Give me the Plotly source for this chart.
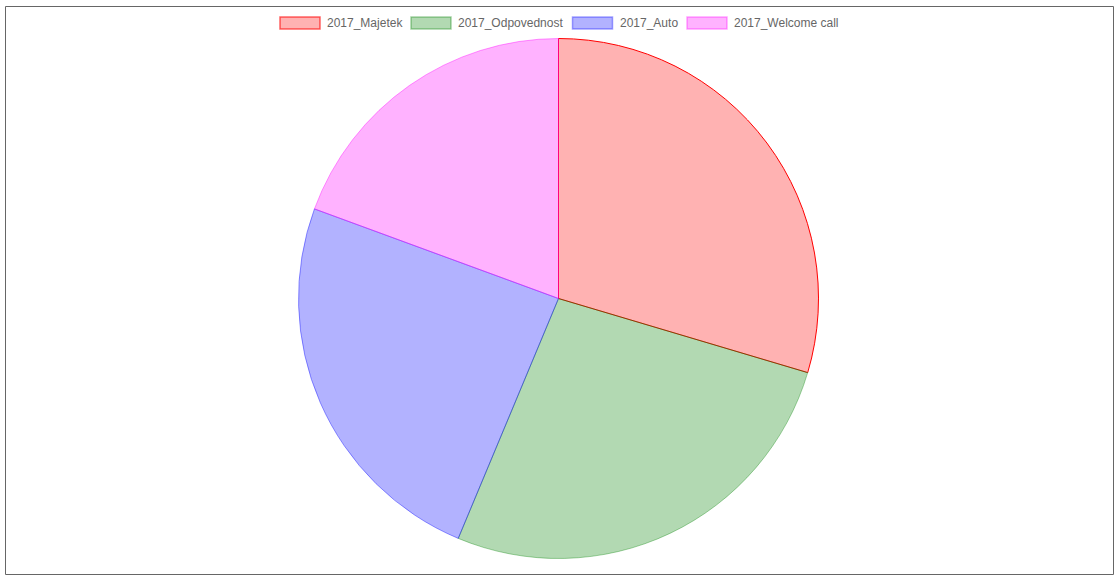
import plotly.graph_objects as go

W, H = 1119, 581

# data (slice shares in %)
labels = ['2017_Majetek', '2017_Odpovednost', '2017_Auto', '2017_Welcome call']
values = [29.6, 26.7, 24.3, 19.4]
fill_colors = ['rgba(255,0,0,0.3)', 'rgba(0,128,0,0.3)', 'rgba(0,0,255,0.3)', 'rgba(255,0,255,0.3)']
line_colors = ['rgba(255,0,0,1)', 'rgba(0,128,0,0.35)', 'rgba(0,0,255,0.4)', 'rgba(255,0,255,0.4)']

def px_x(x):
    return x / W

def px_y(y):
    return 1 - y / H

# pie centred at (558.5, 298.5), radius 260
cx, cy, r = 558.5, 298.5, 260

fig = go.Figure(go.Pie(
    labels=labels,
    values=values,
    sort=False,
    direction='clockwise',
    rotation=0,
    textinfo='none',
    showlegend=False,
    marker=dict(colors=fill_colors, line=dict(color=line_colors, width=1)),
    domain=dict(x=[px_x(cx - r), px_x(cx + r)], y=[px_y(cy + r), px_y(cy - r)]),
))

shapes = []
annotations = []

# outer frame
shapes.append(dict(type='rect', xref='paper', yref='paper',
                   x0=px_x(5.5), x1=px_x(1113.5), y0=px_y(574.5), y1=px_y(6.5),
                   line=dict(color='#666666', width=1), fillcolor='rgba(0,0,0,0)'))

# chart.js style legend across the top
box_x = [280, 411, 572.5, 687]
legend_borders = ['rgba(255,0,0,0.6)', 'rgba(0,128,0,0.35)', 'rgba(0,0,255,0.35)', 'rgba(255,0,255,0.35)']
for i, lab in enumerate(labels):
    x0 = box_x[i]
    shapes.append(dict(type='rect', xref='paper', yref='paper',
                       x0=px_x(x0), x1=px_x(x0 + 40), y0=px_y(29), y1=px_y(17),
                       line=dict(color=legend_borders[i], width=1.5), fillcolor=fill_colors[i]))
    annotations.append(dict(text=lab, xref='paper', yref='paper',
                            x=px_x(x0 + 45), y=px_y(23), xanchor='left', yanchor='middle',
                            showarrow=False,
                            font=dict(family='Liberation Sans, Arial', size=12, color='#666666')))

fig.update_layout(
    width=W, height=H,
    margin=dict(l=0, r=0, t=0, b=0),
    paper_bgcolor='white',
    plot_bgcolor='white',
    shapes=shapes,
    annotations=annotations,
)

# drop the default page margin so the figure sits at the window's corner
fig.write_html("out.html", config={'displayModeBar': False},
               post_script="document.body.style.margin='0';document.body.style.overflow='hidden';")
